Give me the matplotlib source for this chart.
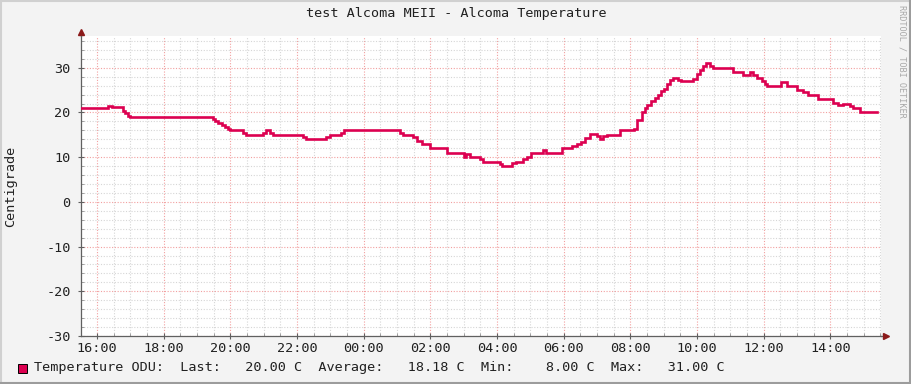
import matplotlib
matplotlib.use("Agg")
import matplotlib.pyplot as plt
from matplotlib.lines import Line2D
from matplotlib.patches import Rectangle
from matplotlib.ticker import MultipleLocator, FixedLocator

# time in hours (16.0 = 16:00 first day, 24+ = next day), step values in C
hours = [15.52, 16.33, 16.45, 16.78, 16.84, 16.93, 16.99, 19.48, 19.54, 19.63,
         19.75, 19.84, 19.93, 19.99, 20.38, 20.47, 20.98, 21.07, 21.19, 21.28,
         22.18, 22.27, 22.87, 22.99, 23.32, 23.41, 25.09, 25.18, 25.48, 25.60,
         25.75, 25.99, 26.50, 27.01, 27.07, 27.19, 27.49, 27.58, 28.09, 28.15,
         28.45, 28.57, 28.78, 28.90, 29.02, 29.38, 29.47, 29.95, 30.25, 30.40,
         30.52, 30.64, 30.79, 31.00, 31.09, 31.18, 31.30, 31.69, 32.11, 32.20,
         32.35, 32.44, 32.50, 32.62, 32.74, 32.83, 32.92, 33.01, 33.10, 33.19,
         33.28, 33.43, 33.52, 33.88, 34.00, 34.09, 34.18, 34.27, 34.39, 34.48,
         35.08, 35.38, 35.59, 35.68, 35.80, 35.95, 36.04, 36.10, 36.52, 36.70,
         37.00, 37.18, 37.33, 37.63, 38.08, 38.23, 38.38, 38.59, 38.68, 38.89,
         39.40]
temps = [21, 21.5, 21.2, 20.3, 19.8, 19.3, 19, 18.6, 18.1, 17.6,
         17.1, 16.7, 16.3, 16, 15.5, 15, 15.5, 16, 15.5, 15,
         14.5, 14, 14.5, 15, 15.5, 16, 15.5, 15, 14.5, 13.7,
         13, 12, 11, 10, 10.6, 10.1, 9.5, 9, 8.5, 8,
         8.7, 9, 9.6, 10, 11, 11.5, 11, 12, 12.4, 13,
         13.5, 14.3, 15.2, 14.8, 14, 14.8, 15, 16, 16.3, 18.4,
         20.2, 21, 21.7, 22.5, 23.2, 23.8, 24.7, 25.2, 26.4, 27.3,
         27.7, 27.3, 27, 27.5, 28.6, 29.6, 30.3, 31, 30.3, 30,
         29, 28.4, 29, 28.4, 27.8, 27, 26.3, 26, 26.8, 26,
         25, 24.5, 24, 23, 22.2, 21.6, 22, 21.4, 21, 20,
         20]

x_ticks = [16, 18, 20, 22, 24, 26, 28, 30, 32, 34, 36, 38]
x_labels = ["16:00", "18:00", "20:00", "22:00", "00:00", "02:00",
            "04:00", "06:00", "08:00", "10:00", "12:00", "14:00"]
y_ticks = [-30, -20, -10, 0, 10, 20, 30]
y_labels = ["-30", "-20", "-10", "0", "10", "20", "30"]

title = "test Alcoma MEII - Alcoma Temperature"
legend_txt = "Temperature ODU:  Last:   20.00 C  Average:   18.18 C  Min:    8.00 C  Max:   31.00 C"

W, H = 911, 384
mono = "DejaVu Sans Mono"
fs = 9.7
line_color = "#DC0050"
arrow_color = "#8B1A1A"

fig = plt.figure(figsize=(W / 100, H / 100), dpi=100, facecolor="#F3F3F3")
ax = fig.add_axes([81 / W, (H - 336) / H, 800 / W, 300 / H], facecolor="white")

# ======= grid ======= #
ax.set_xlim(15.52, 39.52)
ax.set_ylim(-30, 37.1)
ax.xaxis.set_major_locator(FixedLocator(x_ticks))
ax.xaxis.set_minor_locator(MultipleLocator(0.5))
ax.yaxis.set_major_locator(FixedLocator(y_ticks))
ax.yaxis.set_minor_locator(MultipleLocator(2))
ax.grid(which="minor", color="#D6D6D6", linestyle=(0, (1, 1.5)), linewidth=0.8)
ax.grid(which="major", color="#F2A0A0", linestyle=(0, (1, 1.5)), linewidth=0.8)
ax.set_axisbelow(True)

# ======= data ======= #
ax.step(hours, temps, where="post", color=line_color, linewidth=1.9,
        solid_joinstyle="miter", zorder=3)

# ======= axes ======= #
for s in ["top", "right"]:
    ax.spines[s].set_visible(False)
for s in ["left", "bottom"]:
    ax.spines[s].set_color("#606060")
    ax.spines[s].set_linewidth(0.9)
ax.set_xticks(x_ticks)
ax.set_xticklabels(x_labels, fontfamily=mono, fontsize=fs, color="#202020")
ax.set_yticks(y_ticks)
ax.set_yticklabels(y_labels, fontfamily=mono, fontsize=fs, color="#202020")
ax.tick_params(axis="both", which="major", direction="inout", length=5,
               width=0.8, color="#606060")
ax.tick_params(axis="both", which="minor", direction="in", length=2,
               width=0.6, color="#909090")
ax.tick_params(axis="y", which="major", pad=5)
ax.tick_params(axis="x", which="major", pad=2)

# axis arrows
ax.plot([0, 0], [1.0, 1.013], transform=ax.transAxes, color="#606060",
        lw=0.9, clip_on=False)
ax.plot([1.0, 1.005], [0, 0], transform=ax.transAxes, color="#606060",
        lw=0.9, clip_on=False)
ax.plot([0], [1.015], marker="^", markersize=5, color=arrow_color,
        transform=ax.transAxes, clip_on=False)
ax.plot([1.006], [0], marker=">", markersize=5, color=arrow_color,
        transform=ax.transAxes, clip_on=False)

# ======= texts ======= #
fig.text(456 / W, 1 - 14 / H, title, ha="center", va="center",
         fontfamily=mono, fontsize=fs, color="#202020")
fig.text(11 / W, 1 - 186 / H, "Centigrade", rotation=90, ha="center",
         va="center", fontfamily=mono, fontsize=fs, color="#202020")
fig.text(902 / W, 1 - 5 / H, "RRDTOOL / TOBI OETIKER", rotation=270,
         ha="center", va="top", fontfamily=mono, fontsize=6.1, color="#A8A8A8")

# legend
fig.add_artist(Rectangle((18 / W, 1 - 373 / H), 9 / W, 9 / H,
                         transform=fig.transFigure, facecolor=line_color,
                         edgecolor="black", linewidth=0.7))
fig.text(34 / W, 1 - 368 / H, legend_txt, ha="left", va="center",
         fontfamily=mono, fontsize=fs, color="#202020")

# ======= frame shading ======= #
def px_line(x0, y0, x1, y1, color):
    fig.add_artist(Line2D([x0 / W, x1 / W], [1 - y0 / H, 1 - y1 / H],
                          transform=fig.transFigure, color=color, linewidth=1.5))

px_line(0, 0.5, W, 0.5, "#D0D0D0")
px_line(0.5, 0, 0.5, H, "#D0D0D0")
px_line(0, H - 1, W, H - 1, "#9C9C9C")
px_line(W - 1, 0, W - 1, H, "#9C9C9C")

fig.savefig("out.png", dpi=100, facecolor=fig.get_facecolor())
